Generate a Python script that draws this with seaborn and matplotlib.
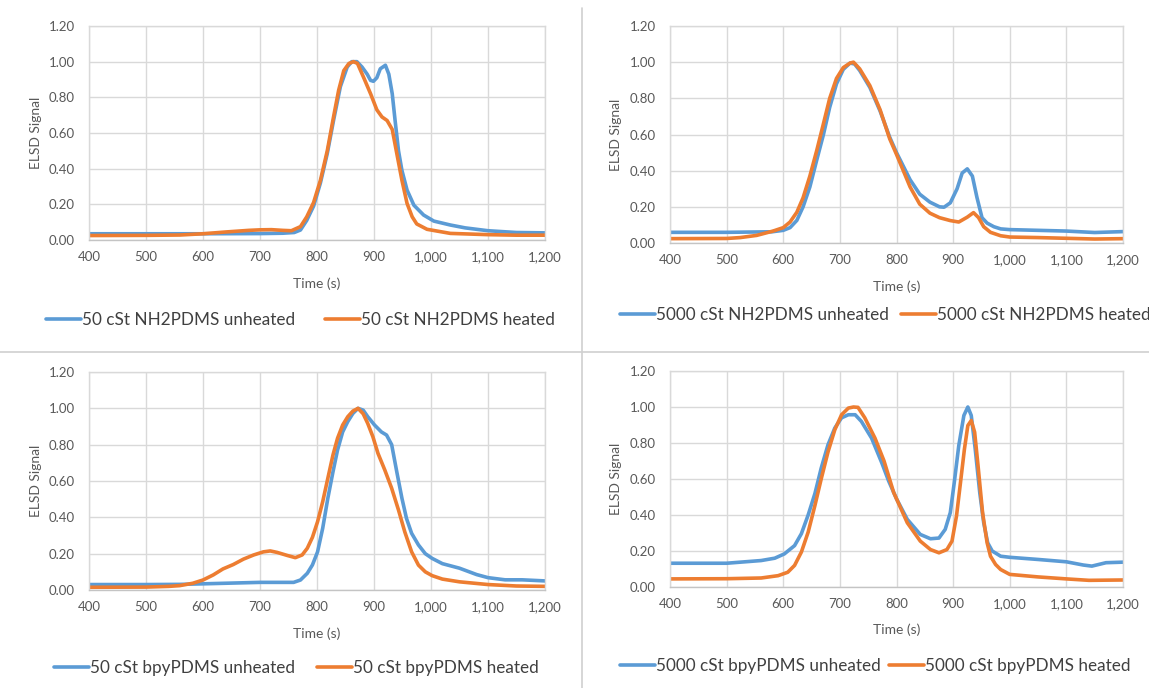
import matplotlib
matplotlib.use("Agg")
import matplotlib.pyplot as plt
from matplotlib.lines import Line2D
from matplotlib.ticker import FuncFormatter, MultipleLocator
import seaborn as sns
import pandas as pd

# ---- 50 cSt NH2PDMS ----
t_nh2_50_unheated = [400, 500, 600, 700, 740, 760, 771, 782, 794, 806, 818, 829, 841, 853, 861, 870,
                     879, 888, 894, 899, 905, 911, 920, 926, 932, 937, 943, 949, 958, 970, 987, 1005,
                     1034, 1060, 1100, 1150, 1200]
s_nh2_50_unheated = [0.035, 0.035, 0.035, 0.036, 0.038, 0.042, 0.056, 0.11, 0.19, 0.32, 0.485, 0.67,
                     0.86, 0.97, 1.0, 1.0, 0.97, 0.93, 0.895, 0.89, 0.91, 0.96, 0.98, 0.93, 0.82, 0.67,
                     0.50, 0.39, 0.28, 0.195, 0.14, 0.106, 0.084, 0.068, 0.052, 0.042, 0.040]
t_nh2_50_heated = [400, 500, 560, 600, 640, 680, 700, 720, 740, 755, 771, 782, 794, 806, 818, 829, 838,
                   847, 856, 864, 871, 882, 894, 905, 914, 923, 932, 940, 949, 958, 967, 975, 993,
                   1034, 1100, 1150, 1200]
s_nh2_50_heated = [0.025, 0.026, 0.028, 0.035, 0.045, 0.054, 0.057, 0.058, 0.054, 0.052, 0.075, 0.13,
                   0.21, 0.335, 0.50, 0.69, 0.84, 0.95, 0.99, 1.0, 0.99, 0.91, 0.82, 0.73, 0.69, 0.67,
                   0.62, 0.485, 0.335, 0.205, 0.13, 0.09, 0.06, 0.037, 0.030, 0.027, 0.027]

# ---- 5000 cSt NH2PDMS ----
t_nh2_5000_unheated = [400, 500, 580, 600, 612, 624, 635, 647, 659, 671, 682, 694, 706, 718, 726, 735,
                       753, 771, 788, 800, 824, 841, 859, 876, 884, 895, 907, 916, 925, 934, 942, 951,
                       960, 972, 984, 1000, 1050, 1100, 1150, 1200]
s_nh2_5000_unheated = [0.059, 0.059, 0.062, 0.07, 0.085, 0.125, 0.20, 0.31, 0.457, 0.60, 0.75, 0.88,
                       0.96, 0.995, 0.99, 0.954, 0.86, 0.73, 0.585, 0.50, 0.35, 0.27, 0.226, 0.20,
                       0.198, 0.222, 0.30, 0.387, 0.41, 0.37, 0.253, 0.14, 0.11, 0.09, 0.078, 0.074,
                       0.07, 0.066, 0.058, 0.063]
t_nh2_5000_heated = [400, 500, 524, 553, 582, 600, 612, 624, 635, 647, 659, 671, 682, 694, 706, 718,
                     724, 735, 753, 771, 788, 800, 824, 841, 859, 876, 895, 910, 925, 936, 945, 954,
                     966, 984, 1000, 1050, 1100, 1150, 1200]
s_nh2_5000_heated = [0.024, 0.025, 0.03, 0.042, 0.066, 0.085, 0.116, 0.17, 0.25, 0.37, 0.51, 0.66,
                     0.80, 0.91, 0.97, 0.995, 1.0, 0.963, 0.87, 0.737, 0.576, 0.49, 0.31, 0.215,
                     0.165, 0.14, 0.124, 0.116, 0.143, 0.168, 0.14, 0.09, 0.059, 0.04, 0.033, 0.03,
                     0.026, 0.022, 0.024]

# ---- 50 cSt bpyPDMS ----
t_bpy_50_unheated = [400, 500, 560, 600, 650, 700, 759, 771, 783, 792, 801, 810, 819, 828, 836, 845,
                     854, 863, 872, 881, 889, 901, 913, 922, 931, 940, 949, 957, 966, 978, 990, 1002,
                     1020, 1050, 1080, 1100, 1130, 1160, 1200]
s_bpy_50_unheated = [0.03, 0.03, 0.031, 0.034, 0.038, 0.042, 0.042, 0.055, 0.092, 0.138, 0.21, 0.34,
                     0.505, 0.65, 0.77, 0.87, 0.927, 0.972, 1.0, 0.99, 0.954, 0.908, 0.87, 0.853,
                     0.80, 0.65, 0.505, 0.394, 0.312, 0.248, 0.20, 0.174, 0.145, 0.12, 0.085, 0.068,
                     0.056, 0.056, 0.05]
t_bpy_50_heated = [400, 500, 540, 559, 582, 600, 618, 635, 653, 671, 689, 706, 718, 730, 748, 762,
                   774, 783, 792, 801, 810, 819, 828, 836, 845, 854, 863, 872, 881, 889, 898, 907,
                   919, 931, 943, 954, 966, 978, 990, 1002, 1020, 1050, 1100, 1150, 1200]
s_bpy_50_heated = [0.015, 0.016, 0.02, 0.024, 0.037, 0.055, 0.083, 0.116, 0.14, 0.17, 0.193, 0.21,
                   0.215, 0.207, 0.19, 0.178, 0.193, 0.23, 0.29, 0.376, 0.486, 0.615, 0.743, 0.835,
                   0.908, 0.954, 0.985, 1.0, 0.97, 0.917, 0.844, 0.752, 0.66, 0.56, 0.44, 0.32,
                   0.21, 0.137, 0.10, 0.079, 0.06, 0.045, 0.03, 0.022, 0.02]

# ---- 5000 cSt bpyPDMS ----
t_bpy_5000_unheated = [400, 500, 561, 585, 602, 620, 632, 644, 656, 667, 679, 691, 703, 715, 727, 738,
                       756, 774, 786, 800, 819, 842, 860, 875, 886, 895, 902, 910, 919, 926, 932, 939,
                       947, 954, 961, 969, 984, 1000, 1050, 1100, 1130, 1145, 1170, 1200]
s_bpy_5000_unheated = [0.132, 0.132, 0.147, 0.16, 0.184, 0.23, 0.296, 0.40, 0.52, 0.66, 0.79, 0.883,
                       0.94, 0.957, 0.957, 0.92, 0.827, 0.69, 0.59, 0.49, 0.376, 0.292, 0.268, 0.272,
                       0.32, 0.413, 0.58, 0.786, 0.953, 1.0, 0.953, 0.767, 0.525, 0.357, 0.246, 0.2,
                       0.171, 0.165, 0.153, 0.14, 0.122, 0.116, 0.135, 0.138]
t_bpy_5000_heated = [400, 500, 561, 591, 608, 620, 632, 644, 656, 667, 679, 691, 703, 715, 724, 732,
                     744, 762, 778, 795, 819, 842, 860, 875, 889, 898, 906, 913, 920, 926, 932, 938,
                     944, 952, 960, 966, 975, 984, 1000, 1050, 1100, 1140, 1200]
s_bpy_5000_heated = [0.045, 0.046, 0.05, 0.063, 0.082, 0.12, 0.194, 0.305, 0.454, 0.60, 0.75, 0.873,
                     0.957, 0.994, 1.0, 0.998, 0.94, 0.827, 0.70, 0.525, 0.357, 0.255, 0.208, 0.19,
                     0.208, 0.255, 0.395, 0.58, 0.767, 0.897, 0.925, 0.86, 0.674, 0.413, 0.246,
                     0.171, 0.125, 0.097, 0.07, 0.056, 0.045, 0.037, 0.039]

panels = [
    ("50 cSt NH2PDMS", t_nh2_50_unheated, s_nh2_50_unheated, t_nh2_50_heated, s_nh2_50_heated),
    ("5000 cSt NH2PDMS", t_nh2_5000_unheated, s_nh2_5000_unheated, t_nh2_5000_heated, s_nh2_5000_heated),
    ("50 cSt bpyPDMS", t_bpy_50_unheated, s_bpy_50_unheated, t_bpy_50_heated, s_bpy_50_heated),
    ("5000 cSt bpyPDMS", t_bpy_5000_unheated, s_bpy_5000_unheated, t_bpy_5000_heated, s_bpy_5000_heated),
]

BLUE = "#5B9BD5"
ORANGE = "#ED7D31"
TEXT = "#595959"
GRID = "#d9d9d9"

sns.set_theme(style="white")
plt.rcParams["font.family"] = ["Lato", "DejaVu Sans"]

W, H = 1149, 688
fig = plt.figure(figsize=(W / 100, H / 100), dpi=100)

# axes boxes in pixels: left, top, right, bottom
boxes = [(89, 26, 545, 240), (670, 26, 1123, 243), (89, 372, 545, 590), (670, 371, 1123, 587)]
# legend left edge / vertical centre in pixels, and gap between the two entries
legend_pos = [(46, 320), (620, 315), (54, 668), (620, 666)]
legend_gap = [1.75, 0.7, 1.3, 0.5]
xlabel_y = [284, 287, 634, 630]
ylabel_x = [36, 616, 36, 616]

for i, (name, tu, su, th, sh) in enumerate(panels):
    l, t, r, b = boxes[i]
    ax = fig.add_axes([l / W, 1 - b / H, (r - l) / W, (b - t) / H])
    df = pd.concat([
        pd.DataFrame({"Time (s)": tu, "ELSD Signal": su, "series": f"{name} unheated"}),
        pd.DataFrame({"Time (s)": th, "ELSD Signal": sh, "series": f"{name} heated"}),
    ])
    sns.lineplot(data=df, x="Time (s)", y="ELSD Signal", hue="series",
                 palette=[BLUE, ORANGE], linewidth=2.6, estimator=None, ax=ax,
                 legend=False)
    ax.set_xlim(400, 1200)
    ax.set_ylim(0, 1.2)
    ax.xaxis.set_major_locator(MultipleLocator(100))
    ax.yaxis.set_major_locator(MultipleLocator(0.2))
    ax.xaxis.set_major_formatter(FuncFormatter(lambda v, p: f"{v:,.0f}"))
    ax.yaxis.set_major_formatter(FuncFormatter(lambda v, p: f"{v:.2f}"))
    ax.grid(True, color=GRID, linewidth=1.0)
    ax.set_axisbelow(True)
    for side, sp in ax.spines.items():
        sp.set_visible(True)
        sp.set_color(GRID)
        sp.set_linewidth(1.0)
    ax.spines["bottom"].set_color("#c4c4c4")
    ax.tick_params(axis="both", length=0, labelsize=9.5, labelcolor=TEXT)
    ax.tick_params(axis="x", pad=8)
    ax.tick_params(axis="y", pad=10)
    ax.set_xlabel("Time (s)", fontsize=10, color=TEXT, va="center")
    ax.set_ylabel("ELSD Signal", fontsize=10, color=TEXT, va="center")
    ax.xaxis.set_label_coords(0.5, -(xlabel_y[i] - b) / (b - t))
    ax.yaxis.set_label_coords((ylabel_x[i] - l) / (r - l), 0.5)

    handles = [Line2D([], [], color=BLUE, linewidth=2.6),
               Line2D([], [], color=ORANGE, linewidth=2.6)]
    lx, ly = legend_pos[i]
    fig.legend(handles, [f"{name} unheated", f"{name} heated"], loc="center left",
               bbox_to_anchor=(lx / W, 1 - ly / H), ncol=2, frameon=False,
               fontsize=12.3, handlelength=2.05, handletextpad=0.05,
               columnspacing=legend_gap[i], borderpad=0, borderaxespad=0,
               labelcolor="#404040")

# panel separators
fig.add_artist(Line2D([582 / W, 582 / W], [0, 1 - 8 / H], transform=fig.transFigure,
                      color="#d0d0d0", linewidth=1.2))
fig.add_artist(Line2D([0, 1], [1 - 352 / H, 1 - 352 / H], transform=fig.transFigure,
                      color="#d0d0d0", linewidth=1.2))

fig.savefig("out.png", dpi=100, facecolor="white")
